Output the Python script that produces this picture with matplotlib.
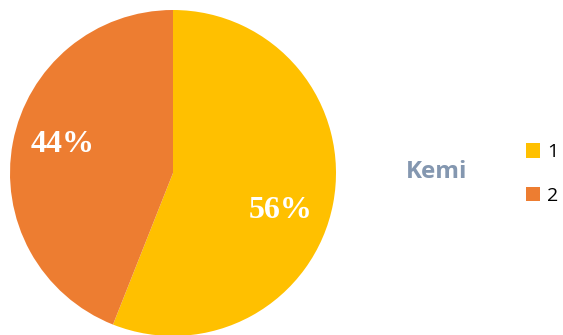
import numpy as np
import matplotlib
matplotlib.use("Agg")
import matplotlib.pyplot as plt

categories = ["1", "2"]
values = [56, 44]
colors = ["#FFC000", "#ED7D31"]
title = "Kemi"

W, H = 563, 335
fig = plt.figure(figsize=(W / 100, H / 100), dpi=100)

# pie area: centre (173, 173) px, radius 163 px
cx, cy, r = 173, 173, 163
ax = fig.add_axes([(cx - r) / W, (H - cy - r) / H, 2 * r / W, 2 * r / H])
wedges, texts, autotexts = ax.pie(
    values,
    colors=colors,
    startangle=90,
    counterclock=False,
    radius=1.0,
    autopct="%d%%",
    pctdistance=0.7,
    textprops=dict(color="white", fontsize=23, fontweight="bold",
                   family=["Liberation Serif", "DejaVu Serif"]),
)

# best-fit style label placement: nudge each label round from its wedge middle
label_shift_deg = [-8.5, -3.5]
for w, t, shift in zip(wedges, autotexts, label_shift_deg):
    mid = np.deg2rad((w.theta1 + w.theta2) / 2 + shift)
    t.set_position((0.70 * np.cos(mid), 0.70 * np.sin(mid)))

ax.set_xlim(-1, 1)
ax.set_ylim(-1, 1)
ax.set_aspect("equal")
ax.axis("off")

fig.text(437 / W, 1 - 172 / H, title, ha="center", va="center",
         fontsize=17.5, fontweight="bold", color="#8497B0", family="Open Sans")

fig.legend(wedges, categories, loc="center left",
           bbox_to_anchor=(516 / W, 1 - 174 / H),
           frameon=False, handlelength=0.75, handleheight=0.75,
           labelspacing=1.3, handletextpad=0.35, borderpad=0,
           prop=dict(family="Open Sans", size=14))

fig.savefig("out.png", dpi=100)
